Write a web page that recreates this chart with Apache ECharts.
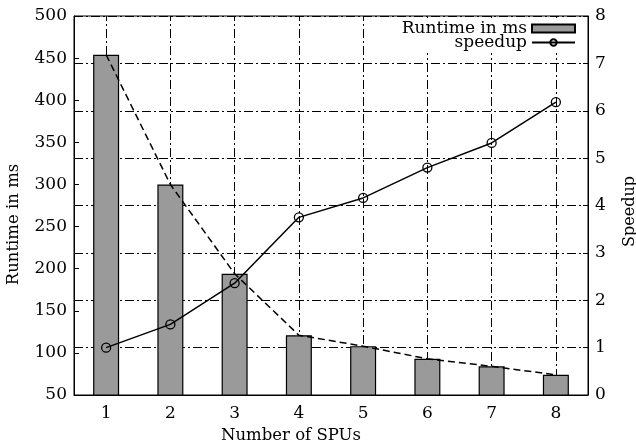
<!DOCTYPE html>
<html>
<head>
<meta charset="utf-8">
<script src="https://cdn.jsdelivr.net/npm/echarts@6/dist/echarts.min.js"></script>
<style>html,body{margin:0;padding:0;background:#fff}#c{width:636px;height:446px}</style>
</head>
<body>
<div id="c"></div>
<script>
const categories = ['1', '2', '3', '4', '5', '6', '7', '8'];
const runtimeMs = [454, 300, 194, 121, 108, 93, 84, 74];
const speedup = [1.0, 1.49, 2.36, 3.75, 4.16, 4.8, 5.32, 6.18];
const leftTicks = [50, 500, 50];   // min, max, interval
const rightTicks = [0, 8, 1];

const FONT = 'DejaVu Serif';
const dashDot = [9, 3, 2, 3];

const chart = echarts.init(document.getElementById('c'), null, {renderer: 'canvas'});
chart.setOption({
  animation: false,
  backgroundColor: '#fff',
  textStyle: {fontFamily: FONT, color: '#000'},
  title: [
    {text: 'Number of SPUs', left: 221, top: 427, padding: 0,
     textStyle: {fontFamily: FONT, fontSize: 16.5, fontWeight: 'normal', color: '#000'}}
  ],
  grid: {left: 74, right: 48, top: 16, bottom: 51, show: true, borderColor: '#000', borderWidth: 1,
         containLabel: false, outerBoundsMode: 'none'},
  legend: {
    right: 60, top: 18, orient: 'vertical', align: 'right',
    itemWidth: 43, itemHeight: 8, itemGap: -3,
    backgroundColor: '#fff', padding: [2, 0, 2, 4],
    textStyle: {fontFamily: FONT, fontSize: 17, color: '#000', padding: [0, 0, 0, 0]},
    data: [
      {name: 'Runtime in ms', icon: 'rect'},
      {name: 'speedup'}
    ]
  },
  xAxis: {
    type: 'category', data: categories, boundaryGap: true,
    axisLine: {lineStyle: {color: '#000', width: 1}},
    axisTick: {show: false},
    axisLabel: {fontFamily: FONT, fontSize: 17, color: '#000', margin: 10},
    splitLine: {show: false}
  },
  yAxis: [
    {
      type: 'value', min: leftTicks[0], max: leftTicks[1], interval: leftTicks[2],
      name: 'Runtime in ms', nameLocation: 'middle', nameGap: 52, nameRotate: 90,
      nameTextStyle: {fontFamily: FONT, fontSize: 16.5, color: '#000', padding: [0, 0, 0, -38]},
      axisLine: {show: true, lineStyle: {color: '#000'}},
      axisTick: {show: true, inside: true, length: 5, lineStyle: {color: '#000'}},
      axisLabel: {fontFamily: FONT, fontSize: 17, color: '#000', margin: 7},
      splitLine: {show: false}
    },
    {
      type: 'value', min: rightTicks[0], max: rightTicks[1], interval: rightTicks[2],
      position: 'right',
      name: 'Speedup', nameLocation: 'middle', nameGap: 34, nameRotate: 90,
      nameTextStyle: {fontFamily: FONT, fontSize: 16, color: '#000', padding: [0, 0, 0, -12]},
      axisLine: {show: true, lineStyle: {color: '#000'}},
      axisTick: {show: true, inside: true, length: 5, lineStyle: {color: '#000'}},
      axisLabel: {fontFamily: FONT, fontSize: 17, color: '#000', margin: 7},
      splitLine: {show: true, lineStyle: {color: '#000', width: 1, type: dashDot}}
    }
  ],
  series: [
    {
      name: 'gridX', type: 'line', data: [], z: 0, silent: true,
      markLine: {
        silent: true, symbol: 'none', z: 0,
        label: {show: false},
        lineStyle: {color: '#000', width: 1, type: dashDot},
        data: categories.map(c => ({xAxis: c}))
      }
    },
    {
      name: 'Runtime in ms', type: 'bar', data: runtimeMs, yAxisIndex: 0, barWidth: 26, z: 2,
      itemStyle: {color: '#9a9a9a', borderColor: '#000', borderWidth: 1.2}
    },
    {
      name: 'runtimeLine', type: 'line', data: runtimeMs, yAxisIndex: 0, z: 3,
      symbol: 'none', lineStyle: {color: '#000', width: 1.5, type: [7, 4]}
    },
    {
      name: 'speedup', type: 'line', data: speedup, yAxisIndex: 1, z: 4,
      symbol: 'circle', symbolSize: 9,
      itemStyle: {color: 'rgba(255,255,255,0)', borderColor: '#000', borderWidth: 1.3},
      lineStyle: {color: '#000', width: 1.5}
    }
  ]
});
</script>
</body>
</html>
